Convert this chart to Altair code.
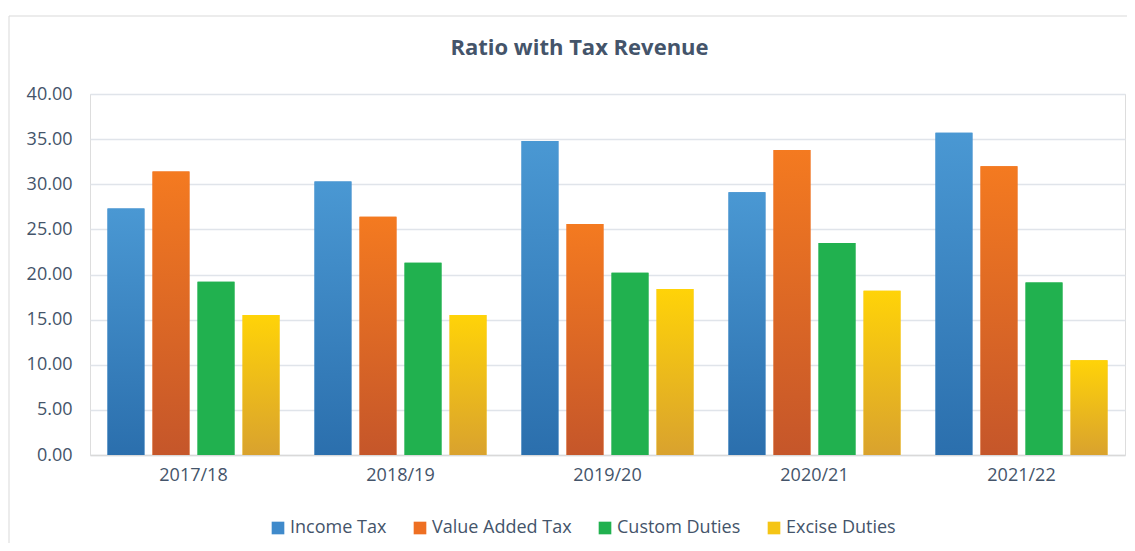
import altair as alt
import pandas as pd

years = ["2017/18", "2018/19", "2019/20", "2020/21", "2021/22"]
series = ["Income Tax", "Value Added Tax", "Custom Duties", "Excise Duties"]
income_tax = [27.3, 30.3, 34.8, 29.1, 35.7]
value_added_tax = [31.4, 26.4, 25.6, 33.8, 32.0]
custom_duties = [19.2, 21.3, 20.2, 23.5, 19.1]
excise_duties = [15.5, 15.5, 18.4, 18.2, 10.5]

flat_colors = ["#3F8ACB", "#EE6F22", "#21B14F", "#F5C515"]
grad_top = ["#4A98D3", "#F47A20", "#21B14F", "#FFD308"]
grad_bot = ["#2B6FAD", "#C5562A", "#21B14F", "#D9A22E"]

values = [income_tax, value_added_tax, custom_duties, excise_duties]
rows = []
for s, vals in zip(series, values):
    for y, v in zip(years, vals):
        rows.append({"Year": y, "Series": s, "Value": v})
df = pd.DataFrame(rows)

TEXT = "#44546A"
FONT = "Open Sans"
W, H = 1035, 361

base = alt.Chart(df).encode(
    x=alt.X(
        "Year:N",
        sort=years,
        title=None,
        scale=alt.Scale(paddingInner=0.13, paddingOuter=0.065),
        axis=alt.Axis(labelAngle=0, ticks=False, domainColor="#D9D9D9", domainWidth=1.3,
                      labelPadding=11, labelFontSize=18, labelColor=TEXT, labelFont=FONT, grid=False),
    ),
    xOffset=alt.XOffset(
        "Series:N",
        sort=series,
        scale=alt.Scale(domain=series, paddingInner=0.18, paddingOuter=0.09),
    ),
    y=alt.Y(
        "Value:Q",
        title=None,
        scale=alt.Scale(domain=[0, 40], nice=False),
        axis=alt.Axis(values=[0, 5, 10, 15, 20, 25, 30, 35, 40], format=".2f", ticks=False, domain=False,
                      labelPadding=18, labelFontSize=18, labelColor=TEXT, labelFont=FONT,
                      gridColor="#E0E4EA", gridWidth=1.4),
    ),
)

legend_layer = base.mark_bar().encode(
    color=alt.Color(
        "Series:N",
        sort=series,
        scale=alt.Scale(domain=series, range=flat_colors),
        legend=alt.Legend(
            title=None, orient="none", direction="horizontal", legendX=179, legendY=425,
            symbolType="square", symbolSize=160, symbolStrokeWidth=0, labelFontSize=18,
            labelColor=TEXT, labelFont=FONT, labelOffset=3, columnPadding=24,
        ),
    )
)

layers = [legend_layer]
for s, t, b in zip(series, grad_top, grad_bot):
    layers.append(
        base.transform_filter(alt.datum.Series == s).mark_bar(
            color=alt.Gradient(
                gradient="linear",
                stops=[alt.GradientStop(color=t, offset=0), alt.GradientStop(color=b, offset=1)],
                x1=0, x2=0, y1=0, y2=1,
            )
        )
    )

frame_df = pd.DataFrame({"k": [0]})
frame_left = alt.Chart(frame_df).mark_rule(color="#D9D9D9", strokeWidth=1).encode(
    x=alt.value(-81), y=alt.value(-78), y2=alt.value(H + 88)
)
frame_top = alt.Chart(frame_df).mark_rule(color="#D9D9D9", strokeWidth=1).encode(
    x=alt.value(-81), x2=alt.value(W + 2), y=alt.value(-78)
)

chart = alt.layer(frame_left, frame_top, *layers).properties(
    width=W,
    height=H,
    title=alt.TitleParams(
        "Ratio with Tax Revenue", fontSize=22, font=FONT, fontWeight="bold", color=TEXT,
        anchor="middle", offset=-61, baseline="alphabetic", dx=-28,
    ),
    autosize=alt.AutoSizeParams(type="none"),
    padding={"left": 82, "top": 86, "right": 2, "bottom": 88},
).configure_view(stroke=None).configure(background="white")

chart.save("out.html", embed_options={"renderer": "svg", "actions": False})
